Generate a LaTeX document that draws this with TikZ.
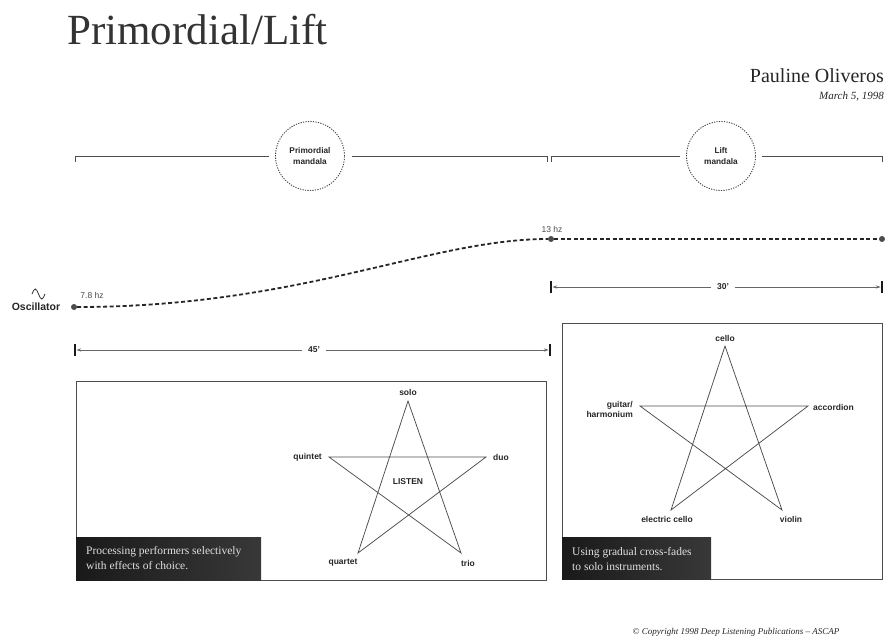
\documentclass[tikz,border=0pt]{standalone}
\usepackage{fontspec}
\setmainfont{Liberation Serif}
\setsansfont{Liberation Sans}
\usetikzlibrary{arrows.meta,calc}

\tikzset{
  lbl/.style={font=\sffamily\bfseries\fontsize{8.5}{10}\selectfont, text=black!85, inner sep=1pt},
  hz/.style={font=\sffamily\fontsize{8.5}{10}\selectfont, text=black!70, inner sep=1pt},
  mandala/.style={circle, draw=black!75, dash pattern=on 1.2pt off 1.3pt, line width=0.9pt,
    minimum size=69pt, inner sep=0pt, outer sep=7pt, align=center,
    font=\sffamily\bfseries\fontsize{8.3}{10.5}\selectfont, text=black!85},
  bracket/.style={draw=black!70, line width=0.9pt},
  freqdot/.style={circle, fill=black!70, inner sep=0pt, minimum size=6pt},
  freq/.style={draw=black!85, line width=1.8pt, dash pattern=on 4pt off 2.5pt},
  endbar/.style={draw=black!90, line width=1.8pt},
  dimline/.style={draw=black!60, line width=0.6pt, shorten >=1.5pt, -{Stealth[length=4.5pt,width=3pt]}},
  starline/.style={draw=black!70, line width=0.75pt},
  boxframe/.style={draw=black!70, line width=1pt},
  notebox/.style={left color=black!90, right color=black!78},
  notetext/.style={font=\fontsize{11.5}{14.5}\selectfont, text=black!12, align=left, anchor=west, inner sep=0pt},
}

\begin{document}
\begin{tikzpicture}[x=1pt,y=-1pt]
\useasboundingbox (0,0) rectangle (888,639);

% Title and author
\node[font=\fontsize{43}{48}\selectfont, text=black!80, anchor=base west, inner sep=0pt] (title) at (67,45) {Primordial/Lift};
\node[font=\fontsize{20}{24}\selectfont, text=black!85, anchor=base east, inner sep=0pt] (author) at (884,83) {Pauline Oliveros};
\node[font=\itshape\fontsize{11}{13}\selectfont, text=black!85, anchor=base east, inner sep=0pt] (date) at (884,100) {March 5, 1998};

% Mandala brackets
\node[mandala] (prim) at (310,156) {Primordial\\mandala};
\node[mandala, outer sep=6.5pt] (lift) at (721,156) {Lift\\mandala};
\coordinate (pA) at (75,162);
\coordinate (pB) at (547,162);
\coordinate (lA) at (551,162);
\coordinate (lB) at (882,162);
\draw[bracket] (pA) |- (prim.west);
\draw[bracket] (prim.east) -| (pB);
\draw[bracket] (lA) |- (lift.west);
\draw[bracket] (lift.east) -| (lB);

% Oscillator and frequency curve
\node[freqdot] (osc) at (74,307) {};
\node[freqdot] (f13) at (551,239) {};
\node[freqdot] (fend) at (882,239) {};
\draw[freq] (osc) .. controls (300,307) and (430,239) .. (f13);
\draw[freq] (f13) -- (fend);
\node[hz] (t78) at (92,295) {7.8 hz};
\node[hz] (t13) at (552,229) {13 hz};
\node[lbl, font=\sffamily\bfseries\fontsize{10.5}{12}\selectfont] (oscl) at (36,307) {Oscillator};
\draw[black!80, line width=0.8pt] (32,294) sin (35.25,289) cos (38.5,294) sin (41.75,299) cos (45,294);

% Durations
\coordinate (d45a) at (75,350);
\coordinate (d45b) at (550,350);
\coordinate (d30a) at (551,287);
\coordinate (d30b) at (882,287);
\foreach \p in {d45a,d45b,d30a,d30b}
  \draw[endbar] ($(\p)+(0,-6)$) -- ($(\p)+(0,6)$);
\node[lbl, inner xsep=6pt] (l45) at (314,350) {45'};
\node[lbl, inner xsep=6pt] (l30) at (723,287) {30'};
\draw[dimline] (l45.west) -- (d45a);
\draw[dimline] (l45.east) -- (d45b);
\draw[dimline] (l30.west) -- (d30a);
\draw[dimline] (l30.east) -- (d30b);

% Left box
\draw[boxframe] (76,381) rectangle (546,580);
\fill[notebox] (76,537) rectangle (261,580);
\node[notetext] (note1) at (86,558) {Processing performers selectively\\with effects of choice.};
\coordinate (solo) at (408,401);
\coordinate (quintet) at (329,457);
\coordinate (duo) at (486,457);
\coordinate (quartet) at (358,553);
\coordinate (trio) at (461,553);
\draw[starline] (solo) -- (quartet) -- (duo) -- (quintet) -- (trio) -- cycle;
\node[lbl] (tsolo) at (408,392) {solo};
\node[lbl, anchor=east] (tquintet) at (323,457) {quintet};
\node[lbl, anchor=west] (tduo) at (492,457) {duo};
\node[lbl] (tquartet) at (343,563) {quartet};
\node[lbl] (ttrio) at (468,563) {trio};
\node[lbl] (listen) at (408,482) {LISTEN};

% Right box
\draw[boxframe] (562,323) rectangle (882,579);
\fill[notebox] (562,537) rectangle (711,579);
\node[notetext] (note2) at (572,559) {Using gradual cross-fades\\to solo instruments.};
\coordinate (cello) at (725,346);
\coordinate (guitar) at (640,406);
\coordinate (accordion) at (808,406);
\coordinate (ecello) at (671,510);
\coordinate (violin) at (782,510);
\draw[starline] (cello) -- (ecello) -- (accordion) -- (guitar) -- (violin) -- cycle;
\node[lbl] (tcello) at (725,338) {cello};
\node[lbl, anchor=east, align=right] (tguitar) at (634,409) {guitar/\\harmonium};
\node[lbl, anchor=west] (taccordion) at (812,407) {accordion};
\node[lbl] (tecello) at (667,519) {electric cello};
\node[lbl] (tviolin) at (791,519) {violin};

% Copyright
\node[font=\itshape\fontsize{9}{11}\selectfont, text=black!85] (copy) at (736,632) {© Copyright 1998 Deep Listening Publications – ASCAP};
\end{tikzpicture}
\end{document}
